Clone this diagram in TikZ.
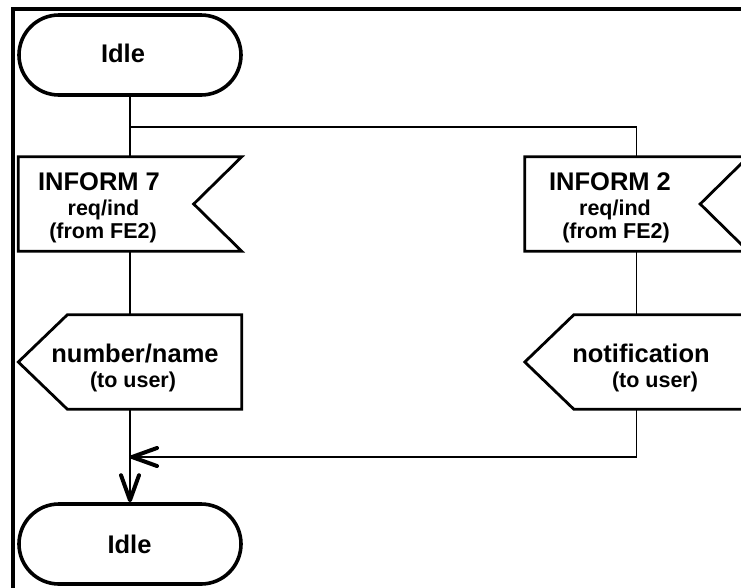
\documentclass[tikz,border=0pt]{standalone}
\usepackage{fontspec}
\setmainfont{Liberation Sans}
\usetikzlibrary{shapes.misc,arrows.meta}
\tikzset{
  frameline/.style={line width=4.3pt},
  term/.style={rounded rectangle, draw, line width=3.6pt, minimum width=222pt, minimum height=80pt, inner sep=0pt},
  shp/.style={minimum width=223pt, minimum height=94pt, inner sep=0pt},
  outline/.style={line width=2.8pt, line join=miter},
  conn/.style={line width=1.9pt},
  barb/.style={-{Straight Barb[length=25pt,width=18pt,line width=4pt,round]}},
  big/.style={font=\fontsize{25.5}{25.5}\selectfont\bfseries, anchor=base, inner sep=0pt},
  small/.style={font=\fontsize{21.5}{21.5}\selectfont\bfseries, anchor=base, inner sep=0pt},
}
\begin{document}
\begin{tikzpicture}[x=1pt,y=-1pt]
\useasboundingbox (0,0) rectangle (741,587);
\clip (0,0) rectangle (741,587);
% frame
\draw[frameline] (13,600) -- (13,9) -- (760,9);
% shapes
\node[term] (idle1) at (130,55) {};
\node[shp] (i7) at (130,204) {};
\node[shp] (i2) at (636.5,204) {};
\node[shp] (nn) at (130,362) {};
\node[shp] (nt) at (636.5,362) {};
\node[term] (idle2) at (130,544) {};
% outlines
\draw[outline] (i7.north west) -- (i7.north east) -- ([xshift=-48pt]i7.east) -- (i7.south east) -- (i7.south west) -- cycle;
\draw[outline] (i2.north west) -- (i2.north east) -- ([xshift=-48pt]i2.east) -- (i2.south east) -- (i2.south west) -- cycle;
\draw[outline] (nn.west) -- ([xshift=49pt]nn.north west) -- (nn.north east) -- (nn.south east) -- ([xshift=49pt]nn.south west) -- cycle;
\draw[outline] (nt.west) -- ([xshift=49pt]nt.north west) -- (nt.north east) -- (nt.south east) -- ([xshift=49pt]nt.south west) -- cycle;
% texts
\node[big] (t1) at (123,62) {Idle};
\node[big] (t2) at (129.5,553) {Idle};
\node[big] (t3) at (99,190) {INFORM 7};
\node[small] (t4) at (103.5,215) {req/ind};
\node[small] (t5) at (103,238) {(from FE2)};
\node[big] (t6) at (610,190) {INFORM 2};
\node[small] (t7) at (615,215) {req/ind};
\node[small] (t8) at (616,238) {(from FE2)};
\node[big] (t9) at (135,362) {number/name};
\node[small] (t10) at (133,387) {(to user)};
\node[big] (t11) at (641,362) {notification};
\node[small] (t12) at (655,387) {(to user)};
% connectors
\coordinate (br) at (130,127);
\coordinate (mg) at (130,457);
\draw[conn] (idle1) -- (i7);
\draw[conn] (br) -| (i2.north);
\draw[conn] (i7) -- (nn);
\draw[conn] (i2) -- (nt);
\draw[conn,barb] (nn) -- (idle2);
\draw[conn,barb] (nt.south) |- (mg);
\end{tikzpicture}
\end{document}
